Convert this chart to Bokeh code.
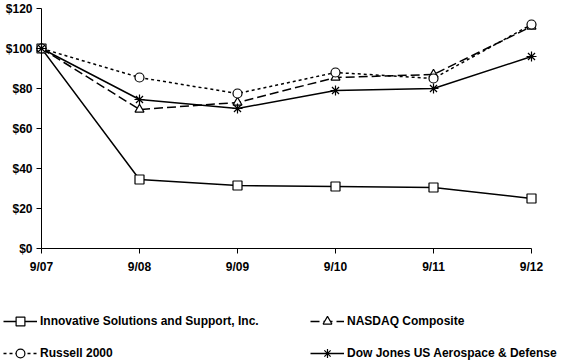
from bokeh.plotting import figure
from bokeh.models import Range1d, FixedTicker, Legend, LegendItem
from bokeh.embed import file_html
from bokeh.resources import INLINE

periods = ["9/07", "9/08", "9/09", "9/10", "9/11", "9/12"]
iss = [100, 34.5, 31.5, 31.0, 30.5, 25.0]
nasdaq = [100, 69.5, 73.0, 85.5, 87.0, 111.0]
russell = [100, 85.5, 77.5, 88.0, 85.0, 112.0]
dowjones = [100, 74.5, 70.0, 79.0, 80.0, 96.0]
y_ticks = [0, 20, 40, 60, 80, 100, 120]
y_labels = ["$0", "$20", "$40", "$60", "$80", "$100", "$120"]
names = ["Innovative Solutions and Support, Inc.", "NASDAQ Composite",
         "Russell 2000", "Dow Jones US Aerospace & Defense"]

FONT = "Liberation Sans"
W = 564

p = figure(width=W, height=286, output_backend="svg", toolbar_location=None,
           x_range=Range1d(0, 5), y_range=Range1d(0, 120),
           min_border_left=41, min_border_right=W - 41 - 490, min_border_top=8,
           min_border_bottom=38)
p.outline_line_color = None
p.xgrid.visible = False
p.ygrid.visible = False

xs = list(range(len(periods)))

p.yaxis.ticker = FixedTicker(ticks=y_ticks)
p.yaxis.major_label_overrides = {t: l for t, l in zip(y_ticks, y_labels)}
p.xaxis.ticker = FixedTicker(ticks=xs)
p.xaxis.major_label_overrides = {i: l for i, l in zip(xs, periods)}
for ax in (p.xaxis[0], p.yaxis[0]):
    ax.axis_line_color = "black"
    ax.axis_line_width = 1
    ax.major_tick_line_color = "black"
    ax.major_tick_in = 0
    ax.minor_tick_line_color = None
    ax.major_label_text_font = FONT
    ax.major_label_text_font_style = "bold"
    ax.major_label_text_font_size = "12px"
    ax.major_label_text_color = "black"
p.xaxis.major_tick_out = 5
p.xaxis.major_label_standoff = 6
p.yaxis.major_tick_out = 5
p.yaxis.major_label_standoff = 4

series = [
    (iss, "solid", "square", 9),
    (nasdaq, "9 4", "triangle", 9),
    (russell, "3 3", "circle", 9),
    (dowjones, "solid", "asterisk", 10),
]

# legend panel: a second, axis-less figure under the chart; its copies of the
# series lie outside its y range, so only the legend samples show
lg = figure(width=W, height=78, output_backend="svg", toolbar_location=None,
            x_range=Range1d(0, 5), y_range=Range1d(-1, 0),
            x_axis_location=None, y_axis_location=None,
            min_border=0, min_border_left=0, min_border_right=0,
            min_border_top=0, min_border_bottom=0)
lg.xgrid.visible = False
lg.ygrid.visible = False
lg.outline_line_color = None

items = []
for (vals, dash, marker, size), name in zip(series, names):
    p.line(xs, vals, line_color="black", line_width=1.5, line_dash=dash)
    p.scatter(xs, vals, marker=marker, size=size, line_color="black",
              line_width=1.2, fill_color="white", level="overlay")
    l2 = lg.line(xs, vals, line_color="black", line_width=1.5, line_dash=dash)
    s2 = lg.scatter(xs, vals, marker=marker, size=size, line_color="black",
                    line_width=1.2, fill_color="white")
    items.append(LegendItem(label=name, renderers=[l2, s2]))

legend = Legend(items=items, location=(3, 0), orientation="horizontal", ncols=2,
                glyph_width=34, glyph_height=22, label_standoff=3, spacing=10,
                label_width=260, padding=0, margin=0,
                border_line_color=None, background_fill_alpha=0,
                label_text_font=FONT, label_text_font_style="bold",
                label_text_font_size="12px", label_text_color="black")
lg.add_layout(legend, "center")

open("out.html", "w").write(file_html([p, lg], INLINE))
